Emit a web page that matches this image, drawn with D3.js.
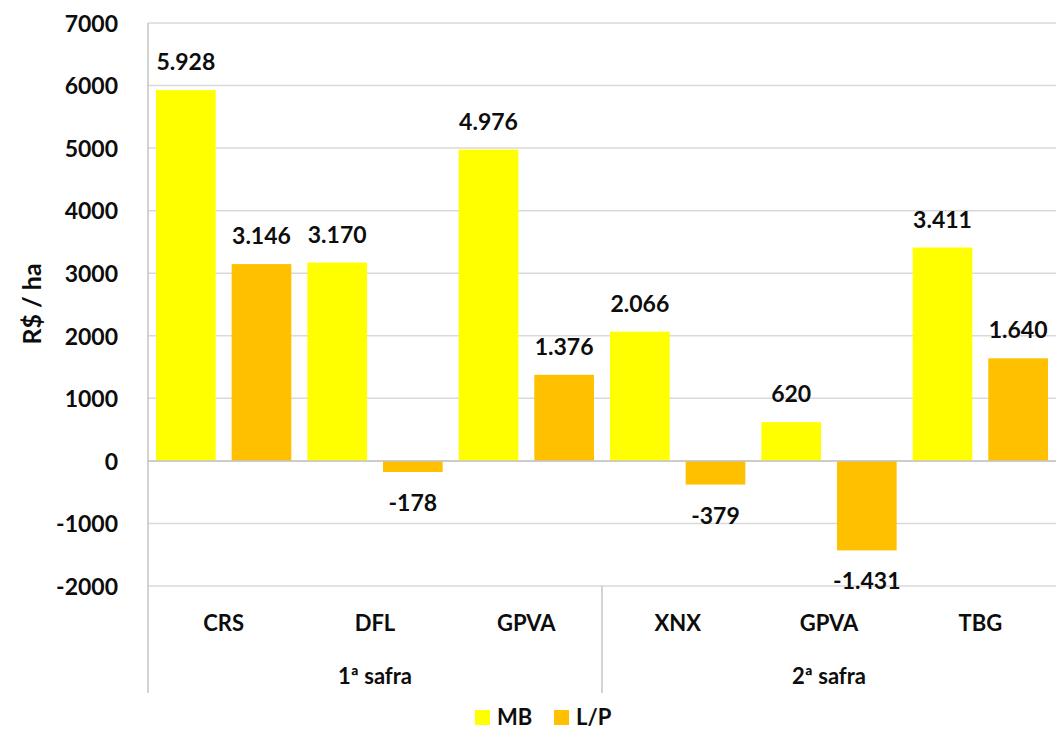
<!DOCTYPE html>
<html><head><meta charset="utf-8">
<script src="https://cdn.jsdelivr.net/npm/d3@7"></script>
<style>body{margin:0;background:#fff}svg{display:block;font-family:Lato,"Open Sans",sans-serif;font-weight:700}</style>
</head><body><svg id="c" width="1056" height="730"></svg>
<script>
const categories = ["CRS","DFL","GPVA","XNX","GPVA","TBG"];
const groups = ["1ª safra","1ª safra","1ª safra","2ª safra","2ª safra","2ª safra"];
const seriesNames = ["MB","L/P"];
const MB = [5928, 3170, 4976, 2066, 620, 3411];
const LP = [3146, -178, 1376, -379, -1431, 1640];
const yTicks = [-2000,-1000,0,1000,2000,3000,4000,5000,6000,7000];
const colors = ["#FFFF00","#FFC000"];

const svg = d3.select("#c");
const L = 148, R = 1056, T = 23, B = 586;
const y = d3.scaleLinear().domain([-2000,7000]).range([B,T]);
const x0 = d3.scaleBand().domain(d3.range(categories.length)).range([L,R]).paddingInner(0).paddingOuter(0);
const x1 = d3.scaleBand().domain(seriesNames).range([0,x0.bandwidth()]).paddingInner(0.211).paddingOuter(0.106);
const txt = "#0d0d0d";
const fmt = v => { const s = Math.abs(v).toString().replace(/\B(?=(\d{3})+(?!\d))/g,"."); return (v<0?"-":"")+s; };

// gridlines
svg.append("g").selectAll("line").data(yTicks).join("line")
  .attr("x1",L).attr("x2",R).attr("y1",d=>y(d)).attr("y2",d=>y(d))
  .attr("stroke","#d9d9d9").attr("stroke-width",1.5);

// y axis labels
const yAxis = d3.axisLeft(y).tickValues(yTicks).tickSize(0).tickPadding(30).tickFormat(d=>d);
const ya = svg.append("g").attr("transform",`translate(${L},0)`).call(yAxis);
ya.select(".domain").remove();
ya.selectAll("text").attr("font-size",23).attr("fill",txt).attr("font-family","Lato").attr("font-weight",700).attr("dy","0.36em");

// bars
const data = categories.map((c,i)=>({i, vals:[{s:"MB",v:MB[i]},{s:"L/P",v:LP[i]}]}));
const g = svg.append("g").selectAll("g").data(data).join("g").attr("transform",d=>`translate(${x0(d.i)},0)`);
g.selectAll("rect").data(d=>d.vals).join("rect")
  .attr("x",d=>x1(d.s)).attr("width",x1.bandwidth())
  .attr("y",d=>y(Math.max(0,d.v))).attr("height",d=>Math.abs(y(d.v)-y(0)))
  .attr("fill",(d,j)=>colors[j]);
g.selectAll("text").data(d=>d.vals).join("text")
  .attr("x",d=>x1(d.s)+x1.bandwidth()/2)
  .attr("y",d=> d.v>=0 ? y(d.v)-20 : y(d.v)+39)
  .attr("text-anchor","middle").attr("font-size",23).attr("fill",txt)
  .text(d=>fmt(d.v));

// axis lines
svg.append("line").attr("x1",L).attr("x2",R).attr("y1",y(0)).attr("y2",y(0)).attr("stroke","#c4c4c4").attr("stroke-width",1.5);
svg.append("line").attr("x1",L).attr("x2",L).attr("y1",T).attr("y2",693).attr("stroke","#c4c4c4").attr("stroke-width",1.5);
// group separators
const groupNames = [...new Set(groups)];
const groupSpans = groupNames.map(gn=>{const idx=d3.range(groups.length).filter(i=>groups[i]===gn);return {gn, x0:x0(idx[0]), x1:x0(idx[idx.length-1])+x0.bandwidth()};});
svg.append("g").selectAll("line").data(groupSpans.slice(1)).join("line")
  .attr("x1",d=>d.x0).attr("x2",d=>d.x0).attr("y1",B).attr("y2",693).attr("stroke","#c4c4c4").attr("stroke-width",1.5);

// category labels
svg.append("g").selectAll("text").data(categories).join("text")
  .attr("x",(d,i)=>x0(i)+x0.bandwidth()/2).attr("y",631)
  .attr("text-anchor","middle").attr("font-size",22).attr("fill",txt).text(d=>d);
svg.append("g").selectAll("text").data(groupSpans).join("text")
  .attr("x",d=>(d.x0+d.x1)/2).attr("y",684)
  .attr("text-anchor","middle").attr("font-size",22).attr("fill",txt).text(d=>d.gn);

// y title
svg.append("text").attr("transform","translate(41,304) rotate(-90)").attr("text-anchor","middle")
  .attr("font-size",25).attr("fill",txt).text("R$ / ha");

// legend
const lg = svg.append("g");
const lx = [475, 554];
seriesNames.forEach((s,j)=>{
  lg.append("rect").attr("x",lx[j]).attr("y",710).attr("width",15).attr("height",15).attr("fill",colors[j]);
  lg.append("text").attr("x",lx[j]+22).attr("y",725).attr("font-size",22).attr("fill",txt).text(s);
});
</script></body></html>
